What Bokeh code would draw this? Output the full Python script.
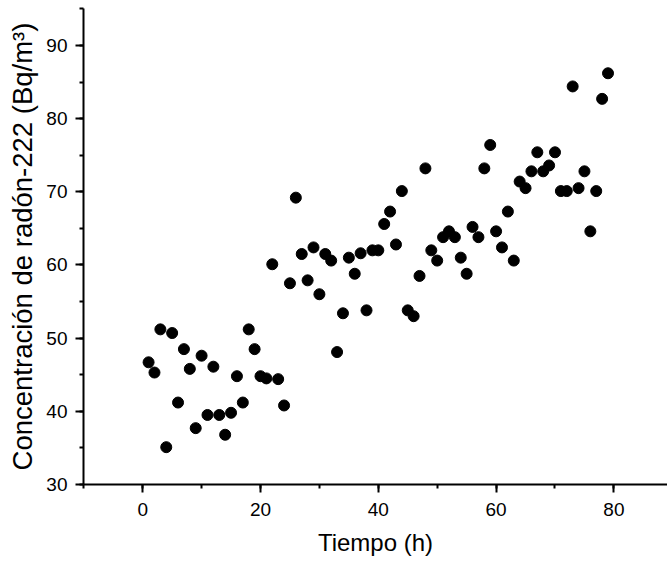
from bokeh.plotting import figure
from bokeh.models import Range1d, SingleIntervalTicker, ColumnDataSource
from bokeh.embed import file_html
from bokeh.resources import INLINE

tiempo = list(range(1, 80))
concentracion = [
    46.7, 45.3, 51.2, 35.1, 50.7, 41.2, 48.5, 45.8, 37.7, 47.6,
    39.5, 46.1, 39.5, 36.8, 39.8, 44.8, 41.2, 51.2, 48.5, 44.8,
    44.5, 60.1, 44.4, 40.8, 57.5, 69.2, 61.5, 57.9, 62.4, 56.0,
    61.5, 60.6, 48.1, 53.4, 61.0, 58.8, 61.6, 53.8, 62.0, 62.0,
    65.6, 67.3, 62.8, 70.1, 53.8, 53.0, 58.5, 73.2, 62.0, 60.6,
    63.8, 64.6, 63.8, 61.0, 58.8, 65.2, 63.8, 73.2, 76.4, 64.6,
    62.4, 67.3, 60.6, 71.4, 70.5, 72.8, 75.4, 72.8, 73.6, 75.4,
    70.1, 70.1, 84.4, 70.5, 72.8, 64.6, 70.1, 82.7, 86.2,
]
x_label = "Tiempo (h)"
y_label = "Concentración de radón-222 (Bq/m³)"

FONT = "Liberation Sans"

source = ColumnDataSource(data=dict(x=tiempo, y=concentracion))

p = figure(
    width=667, height=563,
    x_range=Range1d(-10.05, 89.1), y_range=Range1d(30, 95.05),
    output_backend="svg", toolbar_location=None,
    min_border_left=83, min_border_right=0, min_border_top=8, min_border_bottom=79,
)
p.outline_line_color = None
p.xgrid.visible = False
p.ygrid.visible = False
p.background_fill_color = "white"
p.border_fill_color = "white"

p.scatter("x", "y", source=source, marker="circle", size=11,
          fill_color="black", line_color="black")

p.xaxis.ticker = SingleIntervalTicker(interval=20, num_minor_ticks=2)
p.yaxis.ticker = SingleIntervalTicker(interval=10, num_minor_ticks=2)

for ax in (p.xaxis[0], p.yaxis[0]):
    ax.axis_line_width = 2
    ax.axis_line_color = "black"
    ax.major_tick_line_width = 2
    ax.minor_tick_line_width = 2
    ax.major_tick_line_color = "black"
    ax.minor_tick_line_color = "black"
    ax.major_tick_in = 0
    ax.major_tick_out = 8
    ax.minor_tick_in = 0
    ax.minor_tick_out = 4
    ax.major_label_text_font = FONT
    ax.major_label_text_font_size = "19px"
    ax.major_label_text_color = "black"
    ax.axis_label_text_font = FONT
    ax.axis_label_text_font_style = "normal"
    ax.axis_label_text_color = "black"

p.xaxis.major_label_standoff = 10
p.yaxis.major_label_standoff = 8
p.xaxis.axis_label = x_label
p.xaxis.axis_label_text_font_size = "24px"
p.xaxis.axis_label_standoff = 10
p.yaxis.axis_label = y_label
p.yaxis.axis_label_text_font_size = "27.5px"
p.yaxis.axis_label_standoff = 5

open("out.html", "w").write(file_html(p, INLINE))
